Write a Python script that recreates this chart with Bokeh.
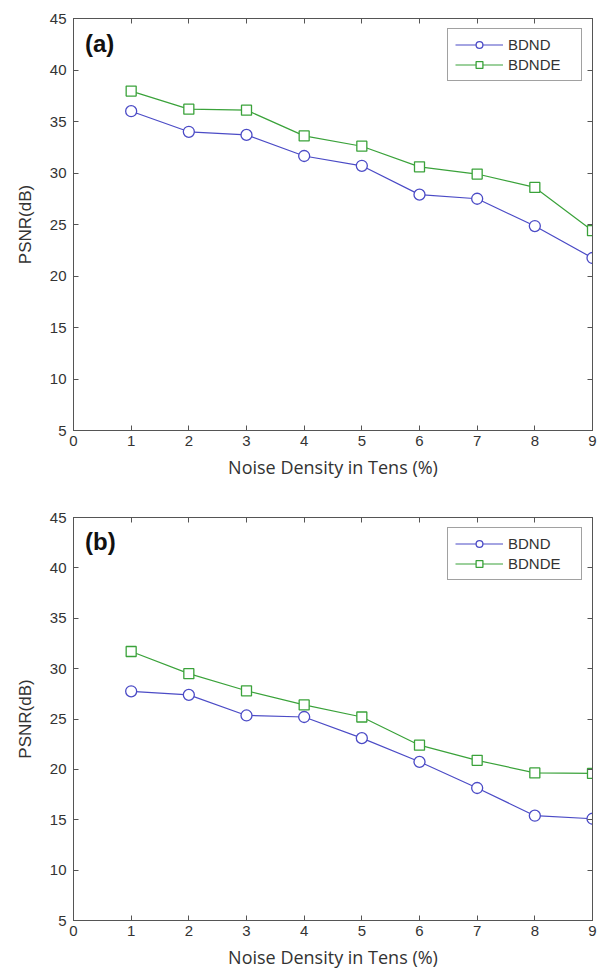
from bokeh.plotting import figure
from bokeh.layouts import column
from bokeh.models import FixedTicker, LinearAxis, Label, Legend, LegendItem, Range1d
from bokeh.embed import file_html
from bokeh.resources import INLINE

noise = [1, 2, 3, 4, 5, 6, 7, 8, 9]
a_bdnd = [36.0, 34.0, 33.7, 31.65, 30.7, 27.9, 27.5, 24.85, 21.75]
a_bdnde = [37.95, 36.2, 36.1, 33.6, 32.6, 30.6, 29.9, 28.6, 24.4]
b_bdnd = [27.75, 27.4, 25.35, 25.2, 23.1, 20.75, 18.15, 15.4, 15.1]
b_bdnde = [31.7, 29.5, 27.8, 26.4, 25.2, 22.4, 20.9, 19.65, 19.6]
x_ticks = [0, 1, 2, 3, 4, 5, 6, 7, 8, 9]
y_ticks = [5, 10, 15, 20, 25, 30, 35, 40, 45]
series_names = ["BDND", "BDNDE"]

BLUE = "#4b4bc6"
GREEN = "#3aa23a"
AXC = "#555555"
TXT = "#333333"


def style_axis(ax, show_labels=True):
    ax.axis_line_color = AXC
    ax.major_tick_line_color = AXC
    ax.major_tick_in = 5
    ax.major_tick_out = 0
    ax.minor_tick_line_color = None
    ax.major_label_text_font = "Liberation Sans"
    ax.major_label_text_font_size = "15px"
    ax.major_label_text_color = TXT if show_labels else None
    ax.axis_label_text_font_style = "normal"


def make_panel(tag, y1, y2, height, top, bottom):
    p = figure(width=600, height=height, output_backend="svg", toolbar_location=None,
               x_range=Range1d(0, 9), y_range=Range1d(5, 45),
               min_border_left=73, min_border_right=8,
               min_border_top=top, min_border_bottom=bottom)
    p.grid.visible = False
    p.outline_line_color = AXC
    p.xaxis.ticker = FixedTicker(ticks=x_ticks)
    p.yaxis.ticker = FixedTicker(ticks=y_ticks)
    for ax in p.xaxis + p.yaxis:
        style_axis(ax)
    p.xaxis.axis_label = "Noise Density in Tens (%)"
    p.xaxis.axis_label_text_font = "Open Sans"
    p.xaxis.axis_label_text_font_size = "18px"
    p.xaxis.axis_label_text_color = TXT
    p.xaxis.axis_label_standoff = 6
    p.xaxis.major_label_standoff = 5
    p.yaxis.axis_label = "PSNR(dB)"
    p.yaxis.axis_label_text_font = "Liberation Sans"
    p.yaxis.axis_label_text_font_size = "17px"
    p.yaxis.axis_label_text_color = TXT
    p.yaxis.axis_label_standoff = 12
    p.yaxis.major_label_standoff = 7

    top_ax = LinearAxis(ticker=FixedTicker(ticks=x_ticks))
    style_axis(top_ax, show_labels=False)
    right_ax = LinearAxis(ticker=FixedTicker(ticks=y_ticks))
    style_axis(right_ax, show_labels=False)
    p.add_layout(top_ax, "above")
    p.add_layout(right_ax, "right")

    l1 = p.line(noise, y1, line_color=BLUE, line_width=1.2)
    m1 = p.scatter(noise, y1, marker="circle", size=11, line_color=BLUE,
                   fill_color="white", line_width=1.3)
    l2 = p.line(noise, y2, line_color=GREEN, line_width=1.2)
    m2 = p.scatter(noise, y2, marker="square", size=10, line_color=GREEN,
                   fill_color="white", line_width=1.3)

    legend = Legend(items=[LegendItem(label=series_names[0], renderers=[l1, m1]),
                           LegendItem(label=series_names[1], renderers=[l2, m2])],
                    location="top_right")
    legend.border_line_color = "#444444"
    legend.border_line_width = 1
    legend.label_text_font = "Liberation Sans"
    legend.label_text_font_size = "15px"
    legend.label_text_color = TXT
    legend.glyph_width = 48
    legend.glyph_height = 17
    legend.label_height = 17
    legend.label_width = 66
    legend.spacing = 3
    legend.padding = 7
    legend.margin = 10
    legend.label_standoff = 5
    p.add_layout(legend)

    p.add_layout(Label(x=0.2, y=42.6, text=tag, text_font="Liberation Sans",
                       text_font_style="bold", text_font_size="24px",
                       text_color="#111111", text_baseline="middle"))
    return p


pa = make_panel("(a)", a_bdnd, a_bdnde, 485, 18, 55)
pb = make_panel("(b)", b_bdnd, b_bdnde, 486, 32, 49)

layout = column(pa, pb, spacing=0)
open("out.html", "w").write(file_html(layout, INLINE))
